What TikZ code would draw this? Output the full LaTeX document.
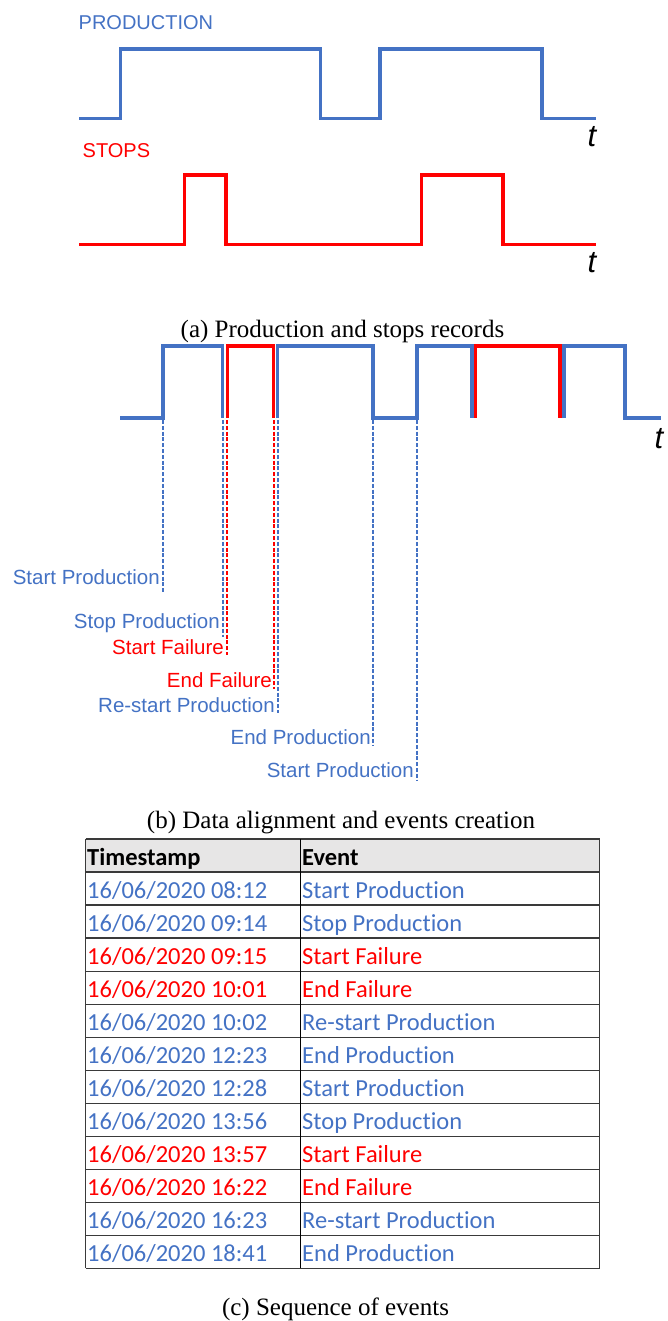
\documentclass[tikz,border=0pt]{standalone}
\usepackage{fontspec}
\setmainfont{Liberation Serif}
\newfontfamily\arialf{Liberation Sans}
\newfontfamily\calf[Ligatures=NoCommon]{Carlito}
\definecolor{pblue}{HTML}{4472C4}
\definecolor{pred}{HTML}{FF0000}
\definecolor{hdr}{HTML}{E7E6E6}
\definecolor{gridc}{HTML}{3A3A3A}
\begin{document}
\begin{tikzpicture}[x=1pt,y=-1pt,
  sig/.style={line width=3.2pt,line join=miter},
  lbl/.style={inner sep=0pt,anchor=base east,font=\arialf\fontsize{20.5}{24}\selectfont},
  ttl/.style={inner sep=0pt,anchor=base west,font=\arialf\fontsize{20}{24}\selectfont},
  tlbl/.style={inner sep=0pt,anchor=base,font=\arialf\itshape\fontsize{31}{36}\selectfont},
  captext/.style={inner sep=0pt,anchor=base,font=\fontsize{25}{30}\selectfont},
  guide/.style={line width=1.8pt,dash pattern=on 4pt off 1.8pt},
  cell/.style={inner sep=0pt,anchor=base west,font=\calf\fontsize{24.5}{29}\selectfont},
  tbl/.style={draw=gridc,line width=1.2pt}]
\useasboundingbox (0,0) rectangle (668,1321);

% ---------- (a) ----------
\node[ttl,text=pblue] (prodttl) at (78.5,29.3) {PRODUCTION};
\draw[sig,pblue] (79,118.3) -- (120.7,118.3) -- (120.7,49) -- (320.7,49) -- (320.7,118.3)
  -- (380,118.3) -- (380,49) -- (542,49) -- (542,118.3) -- (596,118.3);
\node[tlbl] (ta) at (592,147) {t};

\node[ttl,text=pred] (stopttl) at (82.5,157.7) {STOPS};
\draw[sig,pred] (79,244.5) -- (184.3,244.5) -- (184.3,175) -- (226,175) -- (226,244.5)
  -- (421.4,244.5) -- (421.4,175) -- (502.9,175) -- (502.9,244.5) -- (596,244.5);
\node[tlbl] (tb) at (592,273) {t};

\node[captext] (capa) at (342.5,337) {(a) Production and stops records};

% ---------- (b) ----------
\draw[sig,pblue] (120,418) -- (163,418) -- (163,346) -- (222.7,346) -- (222.7,418);
\draw[sig,pred] (227.2,418) -- (227.2,346) -- (273.5,346) -- (273.5,418);
\draw[sig,pblue] (277.7,418) -- (277.7,346) -- (373,346) -- (373,418) -- (417,418)
  -- (417,346) -- (472,346) -- (472,418);
\draw[sig,pred] (475.8,418) -- (475.8,346) -- (560,346) -- (560,418);
\draw[sig,pblue] (564,418) -- (564,346) -- (625,346) -- (625,418) -- (661,418);
\node[tlbl] (tc) at (659,448) {t};

\coordinate (e1) at (163,420);   \coordinate (f1) at (163,592);
\coordinate (e2) at (222.9,420); \coordinate (f2) at (222.9,637);
\coordinate (e3) at (227,420);   \coordinate (f3) at (227,655);
\coordinate (e4) at (273.7,420); \coordinate (f4) at (273.7,689);
\coordinate (e5) at (277.7,420); \coordinate (f5) at (277.7,713);
\coordinate (e6) at (373,420);   \coordinate (f6) at (373,745);
\coordinate (e7) at (417,420);   \coordinate (f7) at (417,780);

\draw[guide,pblue] (e1) -- (f1);
\draw[guide,pblue] (e2) -- (f2);
\draw[guide,pred]  (e3) -- (f3);
\draw[guide,pred]  (e4) -- (f4);
\draw[guide,pblue] (e5) -- (f5);
\draw[guide,pblue] (e6) -- (f6);
\draw[guide,pblue] (e7) -- (f7);

\node[lbl,text=pblue] (l1) at (160,584) {Start Production};
\node[lbl,text=pblue] (l2) at (220,628) {Stop Production};
\node[lbl,text=pred]  (l3) at (224,654) {Start Failure};
\node[lbl,text=pred]  (l4) at (272,687) {End Failure};
\node[lbl,text=pblue] (l5) at (275,712) {Re-start Production};
\node[lbl,text=pblue] (l6) at (371,744) {End Production};
\node[lbl,text=pblue] (l7) at (414,777) {Start Production};

\node[captext] (capb) at (341,828) {(b) Data alignment and events creation};

% ---------- (c) table ----------
\def\rh{33.03}
\fill[hdr] (85.5,839) rectangle (599.5,872);
\foreach \k in {0,...,12} {
  \draw[tbl] (85.5,872+\k*\rh) -- (599.5,872+\k*\rh);
}
\draw[tbl] (85.5,839) -- (599.5,839);
\draw[tbl] (85.5,839) -- (85.5,872+12*\rh);
\draw[tbl] (599.5,839) -- (599.5,872+12*\rh);
\draw[draw=black,line width=1.2pt] (300.5,839) -- (300.5,872+12*\rh);

\node[cell,font=\calf\bfseries\fontsize{24.5}{29}\selectfont] (h1) at (87,865.5) {Timestamp};
\node[cell,font=\calf\bfseries\fontsize{24.5}{29}\selectfont] (h2) at (302,865.5) {Event};

\foreach \i/\ts/\ev/\c in {
  1/08:12/Start Production/pblue,
  2/09:14/Stop Production/pblue,
  3/09:15/Start Failure/pred,
  4/10:01/End Failure/pred,
  5/10:02/Re-start Production/pblue,
  6/12:23/End Production/pblue,
  7/12:28/Start Production/pblue,
  8/13:56/Stop Production/pblue,
  9/13:57/Start Failure/pred,
  10/16:22/End Failure/pred,
  11/16:23/Re-start Production/pblue,
  12/18:41/End Production/pblue} {
  \node[cell,text=\c] (ts\i) at (87,872+\i*\rh-6.5) {16/06/2020 \ts};
  \node[cell,text=\c] (ev\i) at (302,872+\i*\rh-6.5) {\ev};
}

\node[captext] (capc) at (335.5,1315) {(c) Sequence of events};
\end{tikzpicture}
\end{document}
